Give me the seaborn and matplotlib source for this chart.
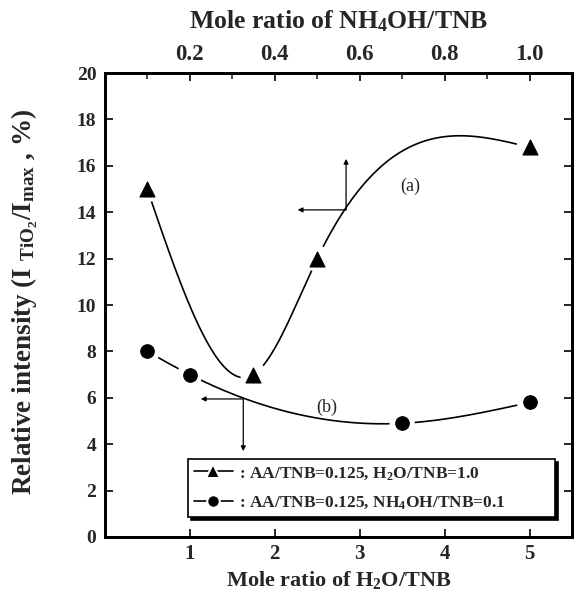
import numpy as np
import pandas as pd
import matplotlib
matplotlib.use("Agg")
import matplotlib.pyplot as plt
from matplotlib.lines import Line2D
import seaborn as sns

# Series (a): varying NH4OH/TNB (top axis), AA/TNB=0.125, H2O/TNB=1.0
nh4oh_ratio = [0.1, 0.35, 0.5, 1.0]
intensity_a = [15.0, 7.0, 12.0, 16.8]

# Series (b): varying H2O/TNB (bottom axis), AA/TNB=0.125, NH4OH/TNB=0.1
h2o_ratio = [0.5, 1.0, 3.5, 5.0]
intensity_b = [8.0, 7.0, 4.9, 5.8]

bottom_ticks = [1, 2, 3, 4, 5]
top_ticks = [0.2, 0.4, 0.6, 0.8, 1.0]
y_ticks = list(range(0, 21, 2))

label_a = ": AA/TNB=0.125, H$_2$O/TNB=1.0"
label_b = ": AA/TNB=0.125, NH$_4$OH/TNB=0.1"


def natural_spline(x, y, xs):
    """Natural cubic spline through (x, y), evaluated at xs."""
    x = np.asarray(x, float)
    y = np.asarray(y, float)
    n = len(x)
    h = np.diff(x)
    A = np.zeros((n, n))
    r = np.zeros(n)
    A[0, 0] = A[-1, -1] = 1.0
    for i in range(1, n - 1):
        A[i, i - 1] = h[i - 1]
        A[i, i] = 2 * (h[i - 1] + h[i])
        A[i, i + 1] = h[i]
        r[i] = 6 * ((y[i + 1] - y[i]) / h[i] - (y[i] - y[i - 1]) / h[i - 1])
    M = np.linalg.solve(A, r)
    out = np.empty_like(xs)
    for k, xv in enumerate(xs):
        i = min(max(np.searchsorted(x, xv) - 1, 0), n - 2)
        a, b = x[i], x[i + 1]
        hi = h[i]
        out[k] = (M[i] * (b - xv) ** 3 / (6 * hi) + M[i + 1] * (xv - a) ** 3 / (6 * hi)
                  + (y[i] / hi - M[i] * hi / 6) * (b - xv)
                  + (y[i + 1] / hi - M[i + 1] * hi / 6) * (xv - a))
    return out


sns.set_theme(style="ticks")
plt.rcParams["font.family"] = ["Liberation Serif", "DejaVu Serif"]
plt.rcParams["font.weight"] = "bold"
plt.rcParams["mathtext.fontset"] = "custom"
plt.rcParams["mathtext.rm"] = "Liberation Serif:bold"
plt.rcParams["mathtext.it"] = "Liberation Serif:bold"
plt.rcParams["mathtext.bf"] = "Liberation Serif:bold"

fig = plt.figure(figsize=(5.82, 6.01), dpi=100)
ax = fig.add_axes([0.180, 0.1065, 0.803, 0.772])
ax2 = ax.twiny()

ax.set_xlim(0, 5.5)
ax.set_ylim(0, 20)
ax2.set_xlim(0, 1.1)

df_a = pd.DataFrame({"x": nh4oh_ratio, "y": intensity_a})
df_b = pd.DataFrame({"x": h2o_ratio, "y": intensity_b})

# Smooth curves through the measured points
xs_a = np.linspace(nh4oh_ratio[0], nh4oh_ratio[-1], 300)
ax2.plot(xs_a, natural_spline(nh4oh_ratio, intensity_a, xs_a), color="black", lw=1.2, zorder=2)
xs_b = np.linspace(h2o_ratio[0], h2o_ratio[-1], 300)
ax.plot(xs_b, natural_spline(h2o_ratio, intensity_b, xs_b), color="black", lw=1.2, zorder=2)

# White halos open a small gap in the curve around each marker
sns.scatterplot(data=df_a, x="x", y="y", ax=ax2, marker="o", s=360, color="white",
                edgecolor="none", zorder=3, legend=False)
sns.scatterplot(data=df_b, x="x", y="y", ax=ax, marker="o", s=330, color="white",
                edgecolor="none", zorder=3, legend=False)
sns.scatterplot(data=df_a, x="x", y="y", ax=ax2, marker="^", s=115, color="black",
                edgecolor="black", zorder=4, legend=False)
sns.scatterplot(data=df_b, x="x", y="y", ax=ax, marker="o", s=95, color="black",
                edgecolor="black", zorder=4, legend=False)

# Axis-assignment arrows
arrow = dict(arrowstyle="-|>", color="black", lw=0.9, mutation_scale=7, shrinkA=0, shrinkB=0)
ax2.annotate("", xy=(0.454, 14.1), xytext=(0.568, 14.1), arrowprops=arrow)
ax2.annotate("", xy=(0.568, 16.3), xytext=(0.568, 14.1), arrowprops=arrow)
ax.annotate("", xy=(1.13, 5.95), xytext=(1.63, 5.95), arrowprops=arrow)
ax.annotate("", xy=(1.63, 3.7), xytext=(1.63, 5.95), arrowprops=arrow)

ax.text(3.59, 15.1, "(a)", fontsize=13, fontweight="normal", ha="center", va="center")
ax.text(2.61, 5.6, "(b)", fontsize=13, fontweight="normal", ha="center", va="center")

# Axes, ticks and labels
ax.set_xticks(bottom_ticks)
ax.set_xticklabels([str(t) for t in bottom_ticks])
ax.set_yticks(y_ticks)
ax.set_yticklabels([str(t) for t in y_ticks])
ax2.set_xticks(top_ticks)
ax2.set_xticklabels([f"{t:.1f}" for t in top_ticks])
ax2.set_xticks(np.arange(0.1, 1.1, 0.2), minor=True)

ax.tick_params(axis="y", direction="in", length=6, width=1.4, labelsize=14, pad=6, right=True)
ax.tick_params(axis="x", direction="in", length=6, width=1.4, labelsize=15, pad=5, top=False)
ax2.tick_params(axis="x", which="major", direction="in", length=6, width=1.4, labelsize=16.5, pad=6)
ax2.tick_params(axis="x", which="minor", direction="in", length=4, width=1.2)
for a in (ax, ax2):
    for sp in a.spines.values():
        sp.set_linewidth(2.0)
        sp.set_color("black")
        sp.set_visible(True)
    for lbl in a.get_xticklabels() + a.get_yticklabels():
        lbl.set_fontweight("bold")

ax.set_xlabel("Mole ratio of H$_2$O/TNB", fontsize=16, fontweight="bold", labelpad=4)
ax.set_ylabel("Relative intensity (I $_{\\mathrm{TiO_2}}$/I$_{\\mathrm{max}}$ , %)",
              fontsize=19.5, fontweight="bold")
ax.yaxis.set_label_coords(-0.138, 0.506)
ax2.set_xlabel("Mole ratio of NH$_4$OH/TNB", fontsize=18.5, fontweight="bold", labelpad=11)

handles = [
    Line2D([], [], color="black", lw=1.2, marker="^", markersize=9.5,
           markeredgecolor="white", markeredgewidth=1.5, markerfacecolor="black"),
    Line2D([], [], color="black", lw=1.2, marker="o", markersize=9,
           markeredgecolor="white", markeredgewidth=1.5, markerfacecolor="black"),
]
leg = ax2.legend(handles, [label_a, label_b], loc="lower left",
                 bbox_to_anchor=(0.178, 0.043, 0.786, 0.127), mode="expand",
                 borderaxespad=0,
                 prop={"family": "Liberation Serif", "weight": "bold", "size": 12.5},
                 handlelength=2.3, handletextpad=0.3, labelspacing=0.75,
                 borderpad=0.32, fancybox=False, framealpha=1,
                 shadow={"facecolor": "black", "edgecolor": "black", "alpha": 1})
leg.get_frame().set_edgecolor("black")
leg.get_frame().set_linewidth(1.2)

fig.savefig("out.png", dpi=100)
